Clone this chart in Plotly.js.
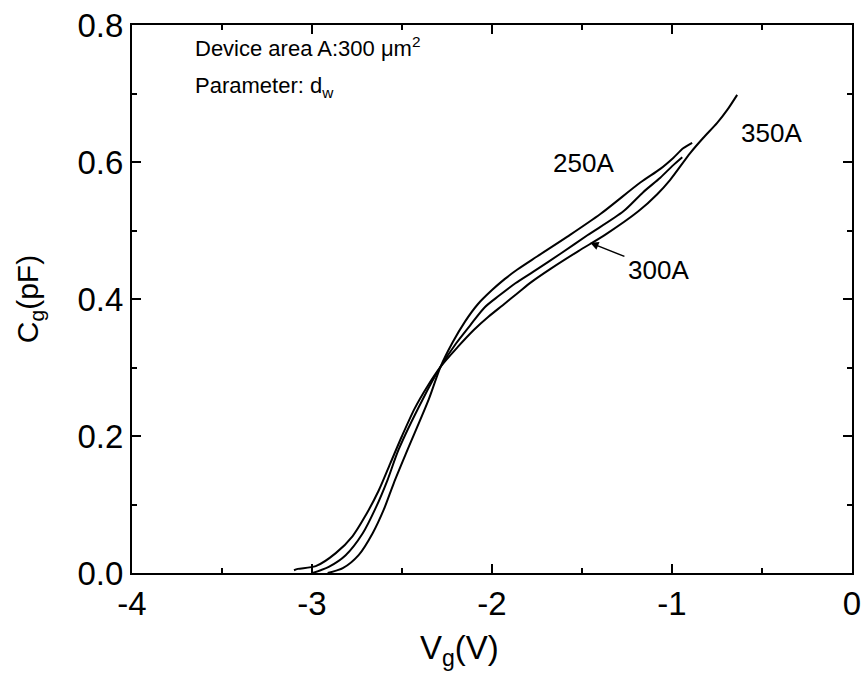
<!DOCTYPE html>
<html>
<head>
<meta charset="utf-8">
<script src="https://cdn.plot.ly/plotly-3.0.1.min.js"></script>
<style>html,body{margin:0;padding:0;background:#fff;}#chart{width:865px;height:680px;}</style>
</head>
<body>
<div id="chart"></div>
<script>
// Gate voltage (V) and gate capacitance (pF) for each well thickness
const v250 = [-2.913,-2.829,-2.741,-2.663,-2.602,-2.546,-2.469,-2.352,-2.286,-2.220,-2.150,-2.080,-2.000,-1.930,-1.859,-1.750,-1.581,-1.398,-1.176,-1.065,-0.993,-0.938,-0.888];
const c250 = [0.000,0.007,0.026,0.058,0.092,0.131,0.180,0.253,0.301,0.336,0.367,0.392,0.413,0.429,0.443,0.462,0.491,0.524,0.570,0.590,0.606,0.620,0.628];

const v300 = [-2.996,-2.907,-2.813,-2.718,-2.646,-2.580,-2.519,-2.386,-2.286,-2.200,-2.120,-2.040,-1.960,-1.870,-1.770,-1.620,-1.470,-1.270,-1.160,-1.065,-0.999,-0.943];
const c300 = [0.000,0.009,0.026,0.058,0.095,0.136,0.180,0.253,0.301,0.335,0.362,0.388,0.405,0.423,0.440,0.466,0.493,0.528,0.556,0.577,0.594,0.607];

const v350 = [-3.100,-3.079,-2.979,-2.868,-2.774,-2.700,-2.630,-2.565,-2.500,-2.430,-2.360,-2.286,-2.190,-2.100,-2.020,-1.940,-1.860,-1.780,-1.675,-1.520,-1.370,-1.187,-1.082,-1.010,-0.899,-0.827,-0.749,-0.693,-0.638];
const c350 = [0.004,0.006,0.010,0.029,0.054,0.085,0.120,0.160,0.200,0.240,0.272,0.301,0.330,0.355,0.374,0.391,0.408,0.425,0.444,0.470,0.494,0.528,0.553,0.574,0.613,0.635,0.657,0.676,0.698];

const xTickVals = [-4,-3,-2,-1,0];
const xTickText = ['-4','-3','-2','-1','0'];
const yTickVals = [0,0.2,0.4,0.6,0.8];
const yTickText = ['0.0','0.2','0.4','0.6','0.8'];

const FONT = 'Liberation Sans, Arial, sans-serif';
const lineStyle = {color:'#000', width:2, shape:'spline', smoothing:0.8};

const traces = [
  {x:v250, y:c250, mode:'lines', line:lineStyle, name:'250A', hoverinfo:'skip'},
  {x:v300, y:c300, mode:'lines', line:lineStyle, name:'300A', hoverinfo:'skip'},
  {x:v350, y:c350, mode:'lines', line:lineStyle, name:'350A', hoverinfo:'skip'}
];

const axisCommon = {
  showgrid:false, zeroline:false, showline:true, linecolor:'#000', linewidth:2,
  mirror:'allticks', ticks:'inside', ticklen:9, tickwidth:2, tickcolor:'#000',
  tickfont:{family:FONT, size:33, color:'#000'}
};

const layout = {
  width:865, height:680,
  margin:{l:132, r:13, t:25, b:107},
  paper_bgcolor:'#fff', plot_bgcolor:'#fff',
  showlegend:false,
  font:{family:FONT, color:'#000'},
  xaxis:Object.assign({}, axisCommon, {
    range:[-4,0], tickvals:xTickVals, ticktext:xTickText,
    minor:{dtick:0.5, ticks:'inside', ticklen:5, tickwidth:2, tickcolor:'#000'}
  }),
  yaxis:Object.assign({}, axisCommon, {
    range:[0,0.8], tickvals:yTickVals, ticktext:yTickText,
    minor:{dtick:0.1, ticks:'inside', ticklen:5, tickwidth:2, tickcolor:'#000'},
    title:{text:'C<sub>g</sub>(pF)', font:{family:FONT, size:30, color:'#000'}, standoff:30}
  }),
  annotations:[
    {xref:'paper', yref:'paper', x:0.455, y:-0.14, xanchor:'center', yanchor:'middle', showarrow:false,
     text:'V<sub>g</sub>(V)', font:{family:FONT, size:33, color:'#000'}},
    {xref:'paper', yref:'paper', x:0.085, y:0.960, xanchor:'left', yanchor:'middle', showarrow:false,
     text:'Device area A:300 \u03bcm<sup>2</sup>', font:{family:FONT, size:22, color:'#000'}},
    {xref:'paper', yref:'paper', x:0.085, y:0.887, xanchor:'left', yanchor:'middle', showarrow:false,
     text:'Parameter: d<sub>w</sub>', font:{family:FONT, size:22, color:'#000'}},
    {x:-1.492, y:0.599, showarrow:false, text:'250A', font:{family:FONT, size:26, color:'#000'}},
    {x:-0.450, y:0.642, showarrow:false, text:'350A', font:{family:FONT, size:26, color:'#000'}},
    {x:-1.454, y:0.482, showarrow:true, ax:68, ay:27, text:'300A',
     font:{family:FONT, size:26, color:'#000'}, arrowhead:2, arrowsize:1.1, arrowwidth:1.5, arrowcolor:'#000', standoff:0, startstandoff:2}
  ]
};

Plotly.newPlot('chart', traces, layout, {staticPlot:true, displayModeBar:false});
</script>
</body>
</html>
